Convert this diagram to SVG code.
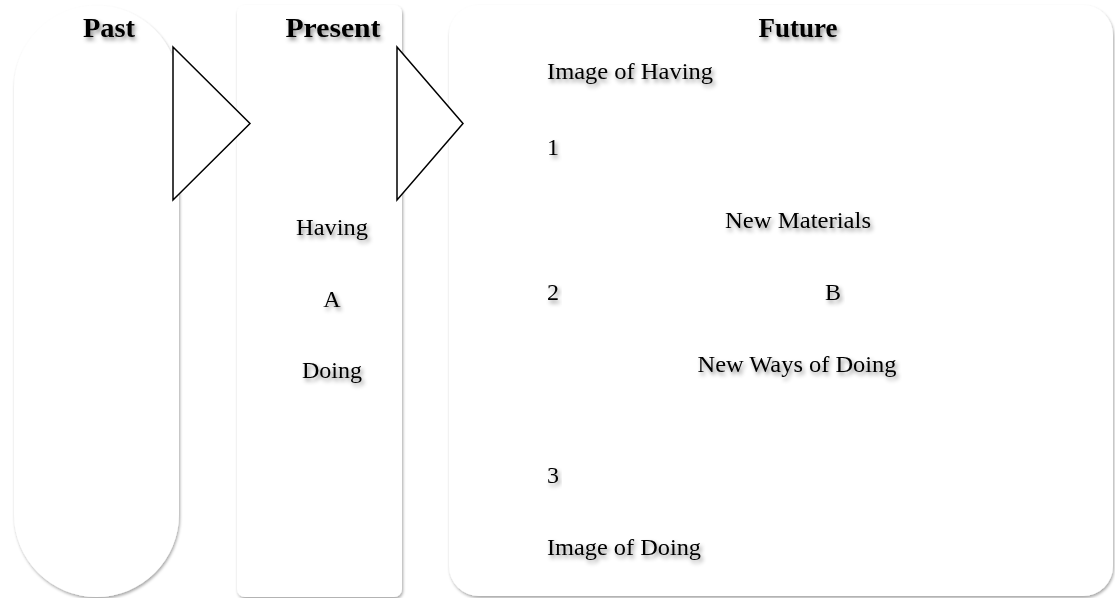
<svg xmlns="http://www.w3.org/2000/svg" width="1115" height="598" viewBox="0 0 1115 598">
<defs>
<filter id="boxShadow" x="-10%" y="-10%" width="120%" height="120%">
<feDropShadow dx="1" dy="2" stdDeviation="1.5" flood-color="#000" flood-opacity="0.35"/>
</filter>
<filter id="textShadow" x="-20%" y="-40%" width="140%" height="200%">
<feDropShadow dx="2" dy="3" stdDeviation="2" flood-color="#000" flood-opacity="0.45"/>
</filter>
</defs>
<style>
.box { fill: #ffffff; filter: url(#boxShadow); }
.tri { fill: #ffffff; stroke: #000000; stroke-width: 1.5; stroke-linejoin: miter; }
text { font-family: "Liberation Serif", "DejaVu Serif", serif; fill: #000000; filter: url(#textShadow); }
.title { font-size: 27px; font-weight: bold; text-anchor: middle; }
.body { font-size: 24px; }
.mid { text-anchor: middle; }
</style>
<g id="past">
<path class="box" d="M14,88 A82.5,82.5 0 0 1 179,88 V514.5 A82.5,82.5 0 0 1 14,514.5 Z"/>
<text class="title" x="109" y="37" textLength="52" lengthAdjust="spacingAndGlyphs">Past</text>
</g>
<g id="present">
<rect class="box" x="237" y="5" width="165" height="592" rx="8" ry="8"/>
<text class="title" x="333" y="37" textLength="95" lengthAdjust="spacingAndGlyphs">Present</text>
<text class="body mid" x="332" y="235" textLength="72" lengthAdjust="spacingAndGlyphs">Having</text>
<text class="body mid" x="332" y="307">A</text>
<text class="body mid" x="332" y="378" textLength="60" lengthAdjust="spacingAndGlyphs">Doing</text>
</g>
<g id="future">
<rect class="box" x="449" y="5" width="664" height="591" rx="30" ry="30"/>
<text class="title" x="798" y="37" textLength="79" lengthAdjust="spacingAndGlyphs">Future</text>
<text class="body" x="547" y="79" textLength="166" lengthAdjust="spacingAndGlyphs">Image of Having</text>
<text class="body" x="547" y="155">1</text>
<text class="body mid" x="798" y="228" textLength="146" lengthAdjust="spacingAndGlyphs">New Materials</text>
<text class="body" x="547" y="300">2</text>
<text class="body mid" x="833" y="300">B</text>
<text class="body mid" x="797" y="372" textLength="199" lengthAdjust="spacingAndGlyphs">New Ways of Doing</text>
<text class="body" x="547" y="483">3</text>
<text class="body" x="547" y="555" textLength="154" lengthAdjust="spacingAndGlyphs">Image of Doing</text>
</g>
<g id="connectors">
<polygon class="tri" points="173,47 250,123.5 173,200"/>
<polygon class="tri" points="397,47 463,123.5 397,200"/>
</g>
</svg>
